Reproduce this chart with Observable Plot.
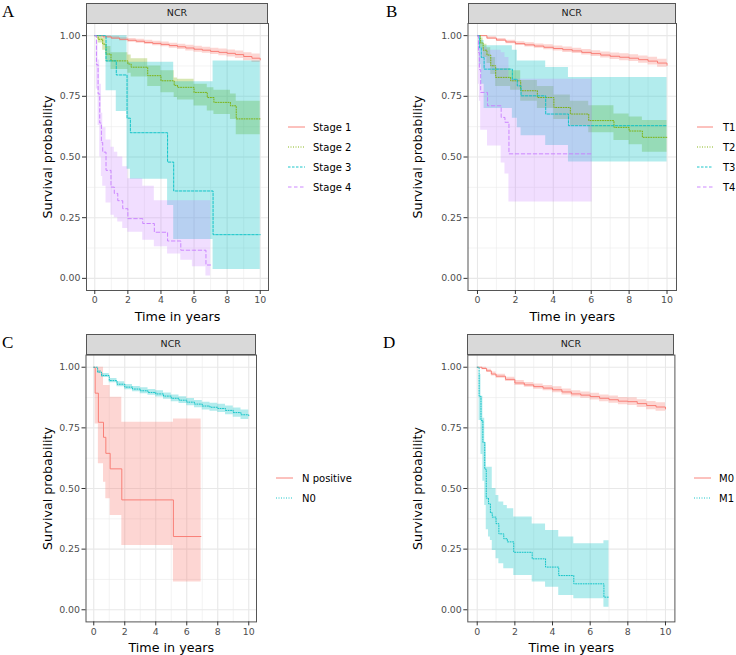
<!DOCTYPE html>
<html><head><meta charset="utf-8">
<script src="https://cdn.jsdelivr.net/npm/d3@7"></script>
<script src="https://cdn.jsdelivr.net/npm/@observablehq/plot@0.6"></script>
<style>
body{margin:0;background:#fff;}
#chart{position:relative;width:736px;height:655px;background:#fff;font-family:"DejaVu Sans",sans-serif;overflow:hidden}
.panel{position:absolute}
.strip{position:absolute;box-sizing:border-box;background:#d9d9d9;border:1px solid #555;font-size:9.5px;color:#1a1a1a;text-align:center;font-family:"DejaVu Sans",sans-serif}
.letter{position:absolute;font-family:"Liberation Serif","Times New Roman",serif;font-size:17px;color:#000;line-height:1}
.legend{position:absolute;overflow:visible}
g[aria-label="x-axis label"], g[aria-label="y-axis label"]{font-size:12.7px;fill:#000}
</style>
</head><body><div id="chart"></div>
<script>
// ---------- data ----------
// rows: [time in years, survival, lower CI, upper CI]
const stageLabels = ["Stage 1", "Stage 2", "Stage 3", "Stage 4"];
const stage1 = [[0,1,1,1],[0.5,0.995,0.99,1],[1,0.99,0.984,0.996],[1.5,0.985,0.978,0.992],[2,0.981,0.973,0.988],[2.5,0.977,0.969,0.985],[3,0.972,0.963,0.981],[3.5,0.968,0.958,0.977],[4,0.964,0.954,0.974],[4.5,0.959,0.948,0.969],[5,0.954,0.943,0.965],[5.5,0.949,0.937,0.96],[6,0.944,0.932,0.956],[6.5,0.94,0.927,0.952],[7,0.935,0.922,0.948],[7.5,0.931,0.917,0.945],[8,0.927,0.912,0.941],[8.5,0.922,0.906,0.937],[9,0.914,0.897,0.93],[9.5,0.907,0.889,0.924],[10,0.9,0.882,0.918]];
const stage2 = [[0,1,1,1],[0.2,0.985,0.97,1],[0.48,0.965,0.94,0.99],[0.68,0.924,0.89,0.955],[0.98,0.896,0.86,0.93],[2.0,0.883,0.845,0.92],[2.2,0.87,0.83,0.905],[3.2,0.835,0.79,0.875],[4.0,0.814,0.765,0.855],[4.8,0.795,0.745,0.825],[5.0,0.787,0.735,0.82],[6.0,0.766,0.71,0.8],[6.8,0.745,0.69,0.785],[7.2,0.725,0.675,0.775],[8.2,0.711,0.655,0.76],[8.55,0.657,0.592,0.73],[10,0.657,0.592,0.73]];
const stage3 = [[0,1,1,1],[0.68,0.896,0.773,1],[1.3,0.838,0.687,1],[1.95,0.66,0.45,0.89],[2.15,0.6,0.408,0.89],[4.4,0.479,0.3,0.89],[4.77,0.36,0.16,0.81],[7.15,0.18,0.037,0.896],[10,0.18,0.037,0.896]];
const stage4 = [[0,1,1,1],[0.1,0.88,0.78,0.97],[0.2,0.76,0.63,0.9],[0.3,0.64,0.5,0.8],[0.4,0.56,0.42,0.68],[0.48,0.52,0.38,0.62],[0.68,0.445,0.31,0.57],[0.98,0.376,0.26,0.54],[1.18,0.35,0.25,0.52],[1.39,0.32,0.232,0.5],[1.69,0.287,0.205,0.46],[2.0,0.246,0.19,0.41],[2.9,0.226,0.157,0.38],[3.6,0.19,0.13,0.32],[4.4,0.154,0.1,0.32],[5.2,0.116,0.075,0.32],[5.9,0.116,0.048,0.32],[6.72,0.055,0.01,0.32],[7.0,0.055,0.01,0.32]];

const tLabels = ["T1", "T2", "T3", "T4"];
const t1 = [[0,1,1,1],[0.5,0.99,0.985,0.995],[1,0.982,0.976,0.988],[1.5,0.974,0.967,0.981],[2,0.967,0.959,0.975],[2.5,0.962,0.953,0.971],[3,0.957,0.948,0.966],[3.5,0.952,0.942,0.962],[4,0.947,0.937,0.957],[4.5,0.942,0.931,0.953],[5,0.937,0.926,0.948],[5.5,0.931,0.92,0.943],[6,0.926,0.914,0.938],[6.5,0.92,0.908,0.933],[7,0.915,0.902,0.928],[7.5,0.911,0.897,0.925],[8,0.907,0.893,0.921],[8.5,0.901,0.886,0.916],[9,0.895,0.879,0.911],[9.5,0.887,0.87,0.903],[10,0.878,0.862,0.894]];
const t2 = [[0,1,1,1],[0.15,0.97,0.95,0.99],[0.3,0.94,0.91,0.965],[0.5,0.92,0.885,0.95],[0.7,0.876,0.84,0.91],[0.96,0.828,0.79,0.865],[1.75,0.814,0.775,0.855],[2.28,0.773,0.73,0.815],[3.16,0.745,0.7,0.79],[4.03,0.704,0.655,0.755],[4.9,0.677,0.629,0.73],[5.87,0.65,0.6,0.711],[7.2,0.622,0.568,0.677],[8.0,0.607,0.55,0.665],[8.7,0.581,0.52,0.65],[10,0.581,0.52,0.65]];
const t3 = [[0,1,1,1],[0.1,0.95,0.88,1],[0.2,0.91,0.8,0.98],[0.35,0.862,0.7,0.958],[1.84,0.82,0.66,0.94],[2.1,0.793,0.62,0.896],[2.3,0.752,0.588,0.896],[3.6,0.677,0.547,0.869],[4.8,0.629,0.479,0.828],[10,0.629,0.479,0.828]];
const t4 = [[0,1,1,1],[0.05,0.93,0.8,1],[0.1,0.86,0.73,0.98],[0.17,0.766,0.61,0.95],[0.53,0.711,0.545,0.94],[1.25,0.663,0.475,0.93],[1.45,0.643,0.43,0.91],[1.66,0.513,0.315,0.82],[6.05,0.513,0.315,0.82]];

const nLabels = ["N positive", "N0"];
const nPositive = [[0,1,1,1],[0.09,0.893,0.766,1],[0.3,0.773,0.602,1],[0.63,0.711,0.526,0.925],[0.78,0.645,0.458,0.925],[1.06,0.581,0.389,0.876],[1.81,0.453,0.265,0.773],[5.14,0.302,0.114,0.787],[6.93,0.302,0.114,0.787]];
const n0 = [[0,1,1,1],[0.25,0.98,0.975,0.987],[0.5,0.966,0.958,0.974],[1,0.945,0.936,0.954],[1.5,0.93,0.92,0.94],[2,0.918,0.907,0.929],[2.5,0.91,0.899,0.921],[3,0.903,0.891,0.915],[3.5,0.896,0.884,0.908],[4,0.89,0.877,0.903],[4.5,0.881,0.868,0.894],[5,0.872,0.858,0.886],[5.5,0.864,0.85,0.878],[6,0.856,0.841,0.871],[6.5,0.848,0.833,0.863],[7,0.84,0.824,0.856],[7.5,0.835,0.819,0.851],[8,0.83,0.813,0.847],[8.5,0.822,0.804,0.84],[9,0.813,0.794,0.832],[9.5,0.804,0.784,0.824],[10,0.794,0.772,0.816]];

const mLabels = ["M0", "M1"];
const m0 = [[0,1,1,1],[0.25,0.995,0.99,1],[0.5,0.985,0.978,0.992],[0.75,0.972,0.964,0.98],[1,0.963,0.955,0.971],[1.5,0.95,0.941,0.959],[2,0.935,0.925,0.945],[2.5,0.927,0.917,0.937],[3,0.92,0.909,0.931],[3.5,0.914,0.903,0.925],[4,0.907,0.895,0.919],[4.5,0.898,0.886,0.91],[5,0.89,0.877,0.903],[5.5,0.885,0.872,0.898],[6,0.879,0.865,0.893],[6.5,0.872,0.858,0.886],[7,0.866,0.851,0.881],[7.5,0.86,0.845,0.875],[8,0.858,0.842,0.874],[8.5,0.85,0.834,0.866],[9,0.842,0.825,0.859],[9.5,0.836,0.818,0.854],[10,0.828,0.809,0.847]];
const m1 = [[0,1,1,1],[0.1,0.88,0.78,0.97],[0.2,0.78,0.64,0.88],[0.3,0.69,0.53,0.79],[0.4,0.58,0.43,0.69],[0.48,0.46,0.33,0.588],[0.6,0.437,0.3,0.588],[0.7,0.4,0.286,0.588],[0.8,0.382,0.244,0.5],[1.0,0.355,0.21,0.471],[1.15,0.313,0.19,0.444],[1.41,0.293,0.169,0.43],[1.6,0.28,0.169,0.416],[1.94,0.237,0.141,0.382],[2.92,0.21,0.114,0.354],[3.63,0.176,0.093,0.327],[4.33,0.141,0.059,0.3],[5.13,0.107,0.045,0.272],[6.73,0.052,0.01,0.285],[7.0,0.052,0.01,0.285]];

const xTicks = [0, 2, 4, 6, 8, 10];
const xMinor = [1, 3, 5, 7, 9];
const yTicks = [0, 0.25, 0.5, 0.75, 1];
const yMinor = [0.125, 0.375, 0.625, 0.875];
const facetLabel = "NCR";
const xTitle = "Time in years";
const yTitle = "Survival probability";

// ---------- styles ----------
const pal4 = ["#F8766D", "#7CAE00", "#00BFC4", "#C77CFF"];
const pal2 = ["#F8766D", "#00BFC4"];
const fillOp4 = [0.3, 0.3, 0.3, 0.25];
const fillOp2 = [0.3, 0.3];
const dash4 = [null, "1 1.5", "2.5 1.5", "3.5 2.5"];
const dash2 = [null, "1 1.5"];

const chart = document.getElementById("chart");

function drawPanel(cfg) {
  const {letter, letterX, letterY, labels, series, colors, fillOps, dashes, left, top, width, height, mL, mT, mR, mB, legX, legY, keyW, textX} = cfg;
  const marks = [
    Plot.gridX(xMinor, {stroke: "#ebebeb", strokeOpacity: 1, strokeWidth: 0.6}),
    Plot.gridY(yMinor, {stroke: "#ebebeb", strokeOpacity: 1, strokeWidth: 0.6}),
    Plot.gridX(xTicks, {stroke: "#e8e8e8", strokeOpacity: 1, strokeWidth: 1.1}),
    Plot.gridY(yTicks, {stroke: "#e8e8e8", strokeOpacity: 1, strokeWidth: 1.1}),
    ...series.map((rows, i) => Plot.areaY(rows, {x: d => d[0], y1: d => d[2], y2: d => d[3], fill: colors[i], fillOpacity: fillOps[i], curve: "step-after"})),
    ...series.map((rows, i) => Plot.line(rows, {x: d => d[0], y: d => d[1], stroke: colors[i], strokeWidth: 0.9, curve: "step-after", ...(dashes[i] ? {strokeDasharray: dashes[i]} : {})})),
    Plot.frame({stroke: "#555", strokeWidth: 1}),
    Plot.axisX(xTicks, {tickSize: 4, tickPadding: 2, stroke: "#333", label: xTitle, labelAnchor: "center", labelOffset: 30, labelArrow: "none"}),
    Plot.axisY(yTicks, {tickSize: 4, tickPadding: 2, stroke: "#333", tickFormat: d3.format(".2f"), label: yTitle, labelAnchor: "center", labelOffset: mL - 42, labelArrow: "none"})
  ];
  const svg = Plot.plot({
    width, height, marginLeft: mL, marginTop: mT, marginRight: mR, marginBottom: mB,
    x: {domain: [-0.5, 10.5]},
    y: {domain: [-0.05, 1.05]},
    style: {fontFamily: "DejaVu Sans, sans-serif", fontSize: "9.4px", color: "#4d4d4d", background: "transparent", overflow: "visible"},
    marks
  });
  svg.classList.add("panel");
  svg.style.left = left + "px";
  svg.style.top = top + "px";
  chart.appendChild(svg);

  // facet strip
  const strip = document.createElement("div");
  strip.className = "strip";
  const sh = 20.5;
  strip.style.left = (left + mL) + "px";
  strip.style.top = (top + mT - sh) + "px";
  strip.style.width = (width - mL - mR) + "px";
  strip.style.height = (sh + 0.5) + "px";
  strip.style.lineHeight = (sh - 2) + "px";
  strip.textContent = facetLabel;
  chart.appendChild(strip);

  // panel letter
  const L = document.createElement("div");
  L.className = "letter";
  L.style.left = letterX + "px";
  L.style.top = letterY + "px";
  L.textContent = letter;
  chart.appendChild(L);

  // legend
  const leg = d3.create("svg").attr("class", "legend").attr("width", 100).attr("height", labels.length * 20)
    .style("left", legX + "px").style("top", legY + "px");
  labels.forEach((name, i) => {
    const g = leg.append("g").attr("transform", `translate(0,${10 + i * 20})`);
    const ln = g.append("line").attr("x1", 0).attr("x2", keyW).attr("y1", 0).attr("y2", 0)
      .attr("stroke", colors[i]).attr("stroke-width", 0.9);
    if (dashes[i]) ln.attr("stroke-dasharray", dashes[i]);
    g.append("text").attr("x", textX).attr("y", 0).attr("dy", "0.35em")
      .attr("font-family", "DejaVu Sans, sans-serif").attr("font-size", "10px").attr("fill", "#000").text(name);
  });
  chart.appendChild(leg.node());
}

drawPanel({letter: "A", letterX: 2, letterY: 3, labels: stageLabels, series: [stage1, stage2, stage3, stage4], colors: pal4, fillOps: fillOp4, dashes: dash4,
  left: 0, top: 0, width: 282, height: 325, mL: 86, mT: 23, mR: 14, mB: 35, legX: 288, legY: 117, keyW: 17, textX: 25});
drawPanel({letter: "B", letterX: 386, letterY: 3, labels: tLabels, series: [t1, t2, t3, t4], colors: pal4, fillOps: fillOp4, dashes: dash4,
  left: 370, top: 0, width: 320, height: 325, mL: 97.5, mT: 23, mR: 14, mB: 35, legX: 697, legY: 117, keyW: 16, textX: 26});
drawPanel({letter: "C", letterX: 2, letterY: 334, labels: nLabels, series: [nPositive, n0], colors: pal2, fillOps: fillOp2, dashes: dash2,
  left: 0, top: 320, width: 270, height: 335, mL: 85.5, mT: 34.6, mR: 14, mB: 33.6, legX: 276, legY: 468, keyW: 17, textX: 26});
drawPanel({letter: "D", letterX: 383, letterY: 334, labels: mLabels, series: [m0, m1], colors: pal2, fillOps: fillOp2, dashes: dash2,
  left: 370, top: 320, width: 320, height: 335, mL: 97.3, mT: 34.6, mR: 15.6, mB: 33.6, legX: 694, legY: 468, keyW: 17, textX: 25});
</script>
</body></html>
